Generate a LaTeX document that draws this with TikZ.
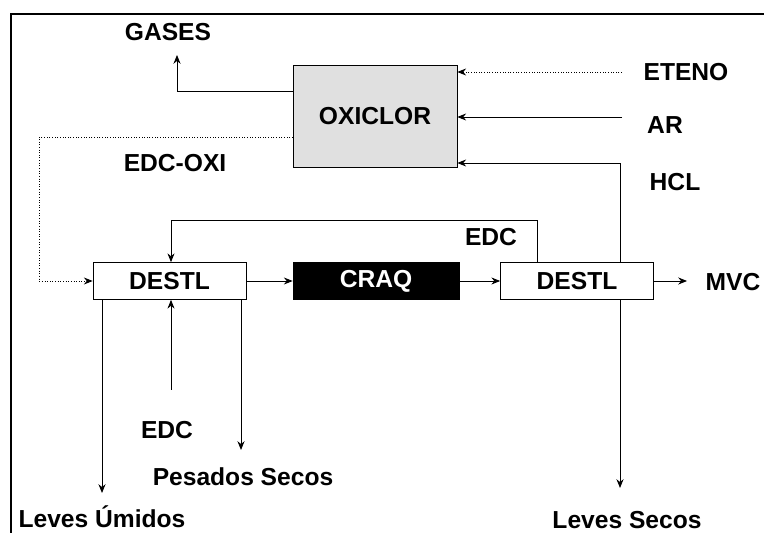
\documentclass[tikz,border=0pt]{standalone}
\usepackage{fontspec}
\setmainfont{Liberation Sans}
\usetikzlibrary{arrows.meta,positioning}

\begin{document}
\begin{tikzpicture}[
    x=0.02cm, y=-0.02cm,
    font=\fontsize{14}{17}\selectfont\bfseries,
    unit/.style={draw, rectangle, fill=white, minimum width=3.06cm, minimum height=0.74cm},
    reactor/.style={draw, rectangle, fill=black!12, minimum width=3.28cm, minimum height=2.04cm},
    cracker/.style={draw, rectangle, fill=black, text=white, minimum width=3.32cm, minimum height=0.74cm},
    stream/.style={inner sep=1pt},
    flow/.style={-{Stealth[length=5pt,width=4pt]}, line width=0.5pt},
    dotflow/.style={flow, densely dotted}
]
\useasboundingbox (0,0) rectangle (764,533);

% frame
\draw[line width=0.8pt] (11,533) -- (11,14) -- (764,14);

% process units
\node[reactor] (oxi) at (375,116) {OXICLOR};
\node[unit] (dest1) at (169.5,281) {DESTL};
\node[cracker] (craq) at (376,281) {CRAQ};
\node[unit] (dest2) at (577,281) {DESTL};

% stream labels
\node[stream] (gases) at (168,32) {GASES};
\node[stream] (eteno) at (686,72) {ETENO};
\node[stream] (ar) at (665,125) {AR};
\node[stream] (hcl) at (675,182) {HCL};
\node[stream] (edcoxi) at (175,163) {EDC-OXI};
\node[stream] (edcrec) at (491,237) {EDC};
\node[stream] (mvc) at (733,282) {MVC};
\node[stream] (edcin) at (167,430) {EDC};
\node[stream] (pesados) at (243,477) {Pesados Secos};
\node[stream] (levesu) at (102,517) {Leves Úmidos};
\node[stream] (levess) at (627,520) {Leves Secos};

% free ends
\coordinate (gasesin) at (177,55);
\coordinate (etenoout) at (622,72);
\coordinate (arout) at (622,117);
\coordinate (mvcin) at (687,281);
\coordinate (edcinout) at (171,390);
\coordinate (pesadosin) at (241,450);
\coordinate (levesuin) at (102,493);
\coordinate (levessin) at (620,488);

% oxychlorination
\draw[flow] (oxi.west |- 0,91) -| (gasesin);
\draw[dotflow] (etenoout) -- (oxi.east |- etenoout);
\draw[flow] (arout) -- (oxi.east |- arout);
\draw[flow] (dest2.north -| 620,0) |- (oxi.east |- 0,163);
\draw[dotflow] (oxi.west |- 0,137) -- (39,137) |- (dest1.west);

% main line
\draw[flow] (dest1) -- (craq);
\draw[flow] (craq) -- (dest2);
\draw[flow] (dest2) -- (mvcin);
\draw[flow] (dest2.north -| 537,0) -- (537,220) -| (dest1.north -| 171,0);

% bottom streams
\draw[flow] (dest1.south -| levesuin) -- (levesuin);
\draw[flow] (edcinout) -- (dest1.south -| edcinout);
\draw[flow] (dest1.south -| pesadosin) -- (pesadosin);
\draw[flow] (dest2.south -| levessin) -- (levessin);

\end{tikzpicture}
\end{document}
